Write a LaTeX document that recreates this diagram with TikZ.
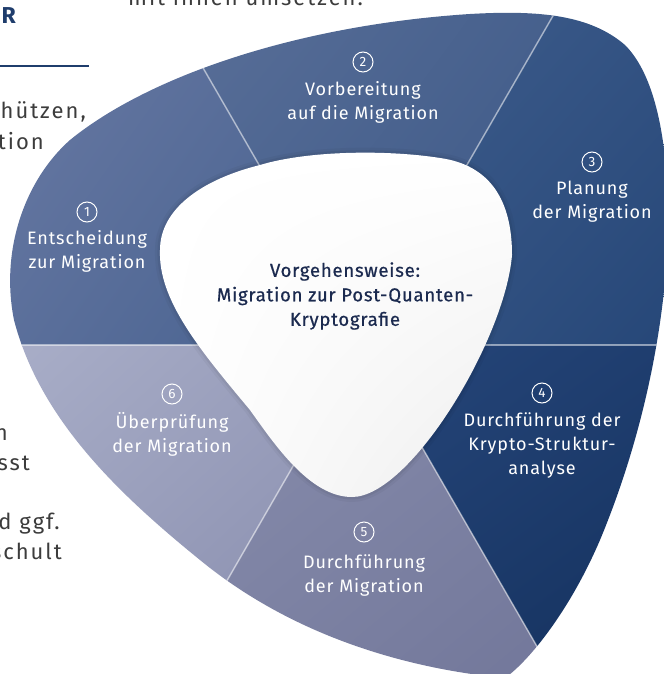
\documentclass[tikz,border=0pt]{standalone}
\usepackage{fontspec}
\usetikzlibrary{shadings}
\setmainfont{Fira Sans}
\newfontfamily\lblfont[LetterSpace=5]{Fira Sans}
\newfontfamily\ctrfont[LetterSpace=4,FakeBold=0.6]{Fira Sans}
\newfontfamily\bodyfont[LetterSpace=9]{Fira Sans}
\definecolor{sAa}{HTML}{6A7AA4}\definecolor{sAb}{HTML}{45608E}
\definecolor{sBa}{HTML}{5B7099}\definecolor{sBb}{HTML}{3A5786}
\definecolor{sCa}{HTML}{405E8D}\definecolor{sCb}{HTML}{264778}
\definecolor{sDa}{HTML}{26467A}\definecolor{sDb}{HTML}{14315E}
\definecolor{sEa}{HTML}{8A8FAE}\definecolor{sEb}{HTML}{72779A}
\definecolor{sFa}{HTML}{A9AEC8}\definecolor{sFb}{HTML}{868BAC}
\definecolor{ctrtext}{HTML}{1B2A4F}
\definecolor{bodytext}{HTML}{3C3C3C}
\definecolor{headblue}{HTML}{1F3D6C}
\def\outerpath{(14,320) .. controls (0,250) and (25,180) .. (70,140) .. controls (150,75) and (300,25) .. (470,14) .. controls (540,10) and (590,15) .. (625,45) .. controls (655,75) and (668,140) .. (668,220) .. controls (668,300) and (650,420) .. (600,540) .. controls (570,610) and (530,660) .. (505,678) .. controls (420,670) and (300,642) .. (200,560) .. controls (120,495) and (40,420) .. (14,320) -- cycle}
\def\innerpath{(352,497) .. controls (410,497) and (505,340) .. (512,255) .. controls (512,200) and (490,165) .. (440,158) .. controls (390,150) and (310,150) .. (260,165) .. controls (200,180) and (160,210) .. (160,250) .. controls (158,300) and (200,350) .. (250,410) .. controls (275,445) and (310,497) .. (352,497) -- cycle}
\tikzset{
  lbl/.style={align=center, text=white, inner sep=0pt, font=\lblfont\fontsize{18bp}{24bp}\selectfont},
  num/.style={circle, draw=white, line width=1bp, minimum size=20bp, inner sep=0pt, text=white, font=\lblfont\fontsize{13.5bp}{13.5bp}\selectfont},
  ctr/.style={align=center, text=ctrtext, inner sep=0pt, font=\ctrfont\fontsize{18.6bp}{24.5bp}\selectfont},
  body/.style={text=bodytext, inner sep=0pt, font=\bodyfont\fontsize{22bp}{30bp}\selectfont},
  divider/.style={white, opacity=0.5, line width=1.5bp}
}
\begin{document}
\begin{tikzpicture}[x=1bp,y=-1bp]
\useasboundingbox (0,0) rectangle (664,674);
\clip (0,0) rectangle (664,674);
\fill[white] (0,0) rectangle (664,674);
\coordinate (C) at (363,345);
% sectors
\begin{scope}
  \clip \outerpath;
  \begin{scope}\clip (C) -- (-37,-348) -- (-437,345) -- cycle;
    \shade[upper left=sAa, lower right=sAb, upper right=sAb!60!sAa, lower left=sAb!40!sAa] (0,0) rectangle (370,350);\end{scope}
  \begin{scope}\clip (C) -- (763,-348) -- (-37,-348) -- cycle;
    \shade[upper left=sBa, lower right=sBb, upper right=sBb!65!sBa, lower left=sBb!45!sBa] (150,0) rectangle (580,350);\end{scope}
  \begin{scope}\clip (C) -- (1163,345) -- (763,-348) -- cycle;
    \shade[upper left=sCa, lower right=sCb, upper right=sCb!50!sCa, lower left=sCb!50!sCa] (360,0) rectangle (670,350);\end{scope}
  \begin{scope}\clip (C) -- (763,1038) -- (1163,345) -- cycle;
    \shade[upper left=sDa, lower right=sDb, upper right=sDb!40!sDa, lower left=sDb!60!sDa] (360,340) rectangle (670,680);\end{scope}
  \begin{scope}\clip (C) -- (-37,1038) -- (763,1038) -- cycle;
    \shade[upper left=sEa, lower right=sEb, upper right=sEb!50!sEa, lower left=sEb!50!sEa] (150,340) rectangle (560,680);\end{scope}
  \begin{scope}\clip (C) -- (-437,345) -- (-37,1038) -- cycle;
    \shade[upper left=sFa, lower right=sFb, upper right=sFb!50!sFa, lower left=sFb!50!sFa] (0,340) rectangle (370,680);\end{scope}
  % dividers
  \coordinate (d0) at (1163,345);
  \coordinate (d60) at (763,-348);
  \coordinate (d120) at (-37,-348);
  \coordinate (d180) at (-437,345);
  \coordinate (d240) at (-37,1038);
  \coordinate (d300) at (763,1038);
  \foreach \d in {d0,d60,d120,d180,d240,d300} \draw[divider] (C) -- (\d);
  % soft shadow of the centre
  \draw[black, opacity=0.035, line width=10bp] \innerpath;
  \draw[black, opacity=0.05, line width=5bp] \innerpath;
\end{scope}
% centre shape
\shade[upper left=white, upper right=white, lower left=white, lower right=black!7] \innerpath;
\node[ctr] (ctr) at (345,296) {Vorgehensweise:\\Migration zur Post-Quanten-\\Kryptografie};
% segment labels
\node[num] (n1) at (87,212) {1};
\node[lbl] (l1) at (87,251) {Entscheidung\\zur Migration};
\node[num] (n2) at (363,62) {2};
\node[lbl] (l2) at (363,102) {Vorbereitung\\auf die Migration};
\node[num] (n3) at (592,162) {3};
\node[lbl] (l3) at (592,202) {Planung\\der Migration};
\node[num] (n4) at (542,393) {4};
\node[lbl] (l4) at (542,445) {Durchführung der\\Krypto-Struktur-\\analyse};
\node[num] (n5) at (364,532) {5};
\node[lbl] (l5) at (364,575) {Durchführung\\der Migration};
\node[num] (n6) at (172,394) {6};
\node[lbl] (l6) at (172,434) {Überprüfung\\der Migration};
% cropped surrounding page text
\node[anchor=base east, text=headblue, inner sep=0pt, font=\bfseries\fontsize{23bp}{23bp}\selectfont] (hR) at (16,24) {R};
\coordinate (ruleA) at (0,66);
\coordinate (ruleB) at (89,66);
\draw[headblue, line width=1.6bp] (ruleA) -- (ruleB);
\node[body, anchor=base west] (tTop) at (128,6) {mit ihnen umsetzen.};
\node[body, anchor=base east] (t1) at (86,119) {hützen,};
\node[body, anchor=base east] (t2) at (44,149) {tion};
\node[body, anchor=base east] (t3) at (8,440) {n};
\node[body, anchor=base east] (t4) at (30,470) {sst};
\node[body, anchor=base east] (t5) at (60,529) {d ggf.};
\node[body, anchor=base east] (t6) at (62,559) {schult};
\end{tikzpicture}
\end{document}
